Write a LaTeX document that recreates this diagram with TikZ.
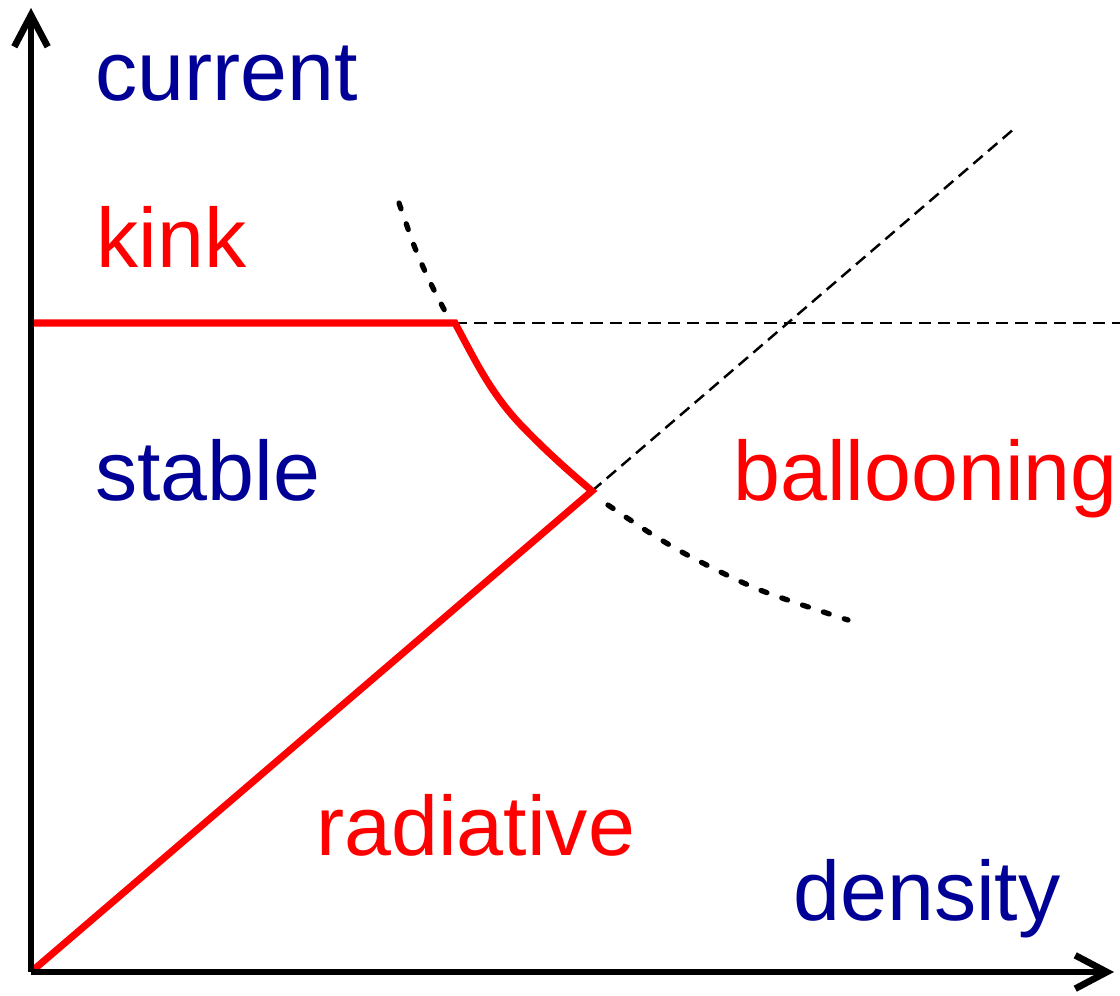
\documentclass[tikz,border=0pt]{standalone}
\usepackage{fontspec}
\setmainfont{Liberation Sans}
\usetikzlibrary{arrows.meta}
\definecolor{lblblue}{RGB}{0,0,150}
\definecolor{lblred}{RGB}{255,0,0}
\tikzset{
  axisline/.style={line width=3.8pt, -{Straight Barb[length=18pt,width=19pt,line width=3.8pt]}},
  redline/.style={line width=4pt, draw=lblred, line join=miter},
  thindash/.style={line width=1.4pt, dash pattern=on 7pt off 4pt},
  dotcurve/.style={line width=3pt, line cap=round, dash pattern=on 3.5pt off 9pt},
  lbl/.style={anchor=base west, inner sep=0pt, font=\fontsize{48}{56}\selectfont},
  bluelbl/.style={lbl, text=lblblue},
  redlbl/.style={lbl, text=lblred}
}
\begin{document}
\begin{tikzpicture}[x=0.02cm,y=-0.02cm]
\useasboundingbox (0,0) rectangle (1120,995);
% key points
\coordinate (O) at (31,972);
\coordinate (ytip) at (31,8);
\coordinate (xtip) at (1114,972);
\coordinate (kleft) at (28,323);
\coordinate (K) at (455,323);
\coordinate (B) at (592,491);
\coordinate (hend) at (1120,323);
\coordinate (dend) at (1015,128);
% thin dashed lines
\draw[thindash] (K) -- (hend);
\draw[thindash] (B) -- (dend);
% thick dotted curves
\draw[dotcurve] plot[smooth] coordinates {(399,203) (415,248) (430,282) (447,315)};
\draw[dotcurve] plot[smooth] coordinates {(608,505) (650,533) (693,558) (760,590) (848,620)};
% red boundary
\draw[redline] (kleft) -- (K)
  .. controls (475,360) and (490,392) .. (520,424)
  .. controls (545,450) and (565,468) .. (B)
  -- (O);
% axes
\draw[axisline] (O) -- (ytip);
\draw[axisline] (O) -- (xtip);
% labels
\node[bluelbl] (current) at (95,100) {current};
\node[redlbl] (kink) at (96,267) {kink};
\node[bluelbl] (stable) at (95,500) {stable};
\node[redlbl] (ballooning) at (733,500) {ballooning};
\node[redlbl] (radiative) at (316,855) {radiative};
\node[bluelbl] (density) at (793,920) {density};
\end{tikzpicture}
\end{document}
